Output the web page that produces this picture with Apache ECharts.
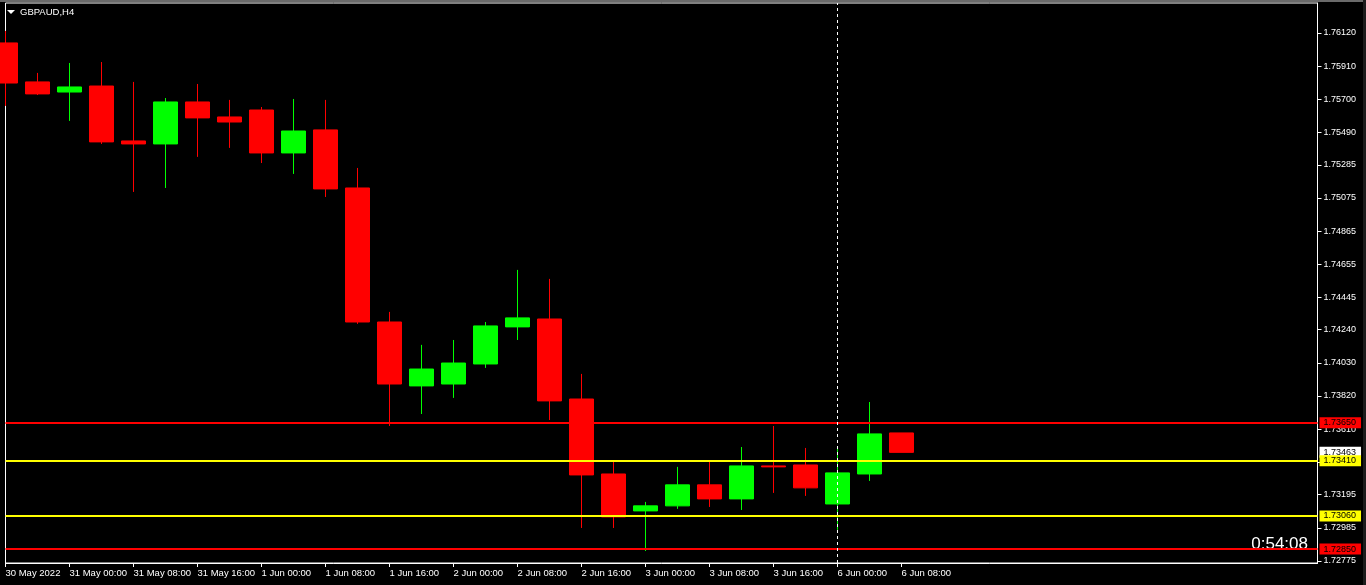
<!DOCTYPE html>
<html>
<head>
<meta charset="utf-8">
<script src="https://cdn.jsdelivr.net/npm/echarts@6/dist/echarts.min.js"></script>
<style>
html,body{margin:0;padding:0;background:#000;}
#chart{width:1366px;height:585px;}
</style>
</head>
<body>
<div id="chart"></div>
<script>
const symbolTitle = 'GBPAUD,H4';
const categories = ['30 May 2022','30 May 20:00','31 May 00:00','31 May 04:00','31 May 08:00','31 May 12:00','31 May 16:00','31 May 20:00',
  '1 Jun 00:00','1 Jun 04:00','1 Jun 08:00','1 Jun 12:00','1 Jun 16:00','1 Jun 20:00',
  '2 Jun 00:00','2 Jun 04:00','2 Jun 08:00','2 Jun 12:00','2 Jun 16:00','2 Jun 20:00',
  '3 Jun 00:00','3 Jun 04:00','3 Jun 08:00','3 Jun 12:00','3 Jun 16:00','3 Jun 20:00',
  '6 Jun 00:00','6 Jun 04:00','6 Jun 08:00'];
const opens  = [1.76057,1.75810,1.75746,1.75784,1.75436,1.75417,1.75683,1.75588,1.75632,1.75360,1.75506,1.75138,1.74289,1.73884,1.73896,1.74023,1.74258,1.74308,1.73801,1.73326,1.73092,1.73124,1.73257,1.73168,1.73377,1.73383,1.73136,1.73326,1.73586];
const closes = [1.75803,1.75734,1.75778,1.75430,1.75417,1.75683,1.75582,1.75556,1.75360,1.75499,1.75132,1.74289,1.73896,1.73991,1.74029,1.74264,1.74315,1.73789,1.73320,1.73054,1.73124,1.73257,1.73168,1.73377,1.73371,1.73238,1.73333,1.73580,1.73463];
const lows   = [1.75658,1.75727,1.75563,1.75417,1.75113,1.75138,1.75335,1.75392,1.75296,1.75227,1.75081,1.74277,1.73630,1.73706,1.73808,1.73998,1.74175,1.73668,1.72984,1.72984,1.72838,1.73105,1.73117,1.73098,1.73206,1.73187,1.72972,1.73282,1.73463];
const highs  = [1.76133,1.75867,1.75930,1.75936,1.75810,1.75708,1.75797,1.75696,1.75651,1.75702,1.75696,1.75265,1.74353,1.74144,1.74175,1.74289,1.74619,1.74562,1.73960,1.73402,1.73149,1.73371,1.73409,1.73497,1.73630,1.73491,1.73491,1.73782,1.73586];
const priceTicks = [1.76120,1.75910,1.75700,1.75490,1.75285,1.75075,1.74865,1.74655,1.74445,1.74240,1.74030,1.73820,1.73610,1.73400,1.73195,1.72985,1.72775];
const redLevels = [1.73650, 1.72850];
const yellowLevels = [1.73410, 1.73060];
const bidPrice = 1.73463;
const separatorIndex = 26;
const timerText = '0:54:08';

const PAD = 13;
const xCats = categories.concat(Array.from({length: PAD}, (_, i) => 'pad' + i));
const candles = categories.map((c, i) => [opens[i], closes[i], lows[i], highs[i]]);
const FONT = 'Liberation Sans, Arial, sans-serif';

function priceLabel(v, bg) {
  return {show: true, position: 'end', distance: 2, formatter: v.toFixed(5),
    backgroundColor: bg, color: '#000', fontSize: 9, fontFamily: FONT, padding: [1, 5, 1, 4]};
}
function levelLine(v, bg) {
  return {yAxis: v, lineStyle: {color: bg, width: 2, type: 'solid'}, label: priceLabel(v, bg)};
}

const markData = [
  {yAxis: bidPrice, lineStyle: {color: 'rgba(0,0,0,0)', width: 1, type: 'solid'}, label: priceLabel(bidPrice, '#ffffff')},
  levelLine(redLevels[0], '#ff0000'),
  levelLine(yellowLevels[0], '#ffff00'),
  levelLine(yellowLevels[1], '#ffff00'),
  levelLine(redLevels[1], '#ff0000'),
  {xAxis: xCats[separatorIndex], lineStyle: {color: '#fff', width: 1, type: [3, 3]}, label: {show: false}}
];

const chart = echarts.init(document.getElementById('chart'), null, {renderer: 'canvas'});
chart.setOption({
  animation: false,
  backgroundColor: '#000',
  grid: {left: 5.5, top: 3, width: 1312, height: 560, show: true, borderColor: '#fff', borderWidth: 1, backgroundColor: '#000'},
  xAxis: {
    type: 'category', data: xCats, boundaryGap: false,
    axisLine: {show: true, lineStyle: {color: '#fff', width: 1}},
    axisTick: {show: true, length: 4, lineStyle: {color: '#fff'}, interval: (i) => i % 2 === 0 && i < categories.length},
    axisLabel: {show: true, color: '#fff', fontSize: 9.5, fontFamily: FONT, align: 'left', margin: 5,
      interval: (i) => i % 2 === 0 && i < categories.length,
      formatter: (v, i) => i < categories.length ? v : ''},
    splitLine: {show: false}
  },
  yAxis: {
    type: 'value', position: 'right', min: 1.72762, max: 1.76310, scale: true,
    axisLine: {show: true, lineStyle: {color: '#fff', width: 1}},
    axisTick: {show: true, length: 4, lineStyle: {color: '#fff'}, customValues: priceTicks},
    axisLabel: {show: true, color: '#fff', fontSize: 9, fontFamily: FONT, margin: 6,
      customValues: priceTicks, formatter: (v) => v.toFixed(5)},
    splitLine: {show: false}
  },
  series: [{
    type: 'candlestick',
    data: candles,
    barWidth: 25,
    clip: true,
    itemStyle: {color: '#00ff00', color0: '#ff0000', borderColor: '#00ff00', borderColor0: '#ff0000', borderWidth: 1},
    markLine: {symbol: 'none', silent: true, animation: false, precision: 5, data: markData}
  }],
  graphic: [
    {type: 'rect', left: 0, top: 0, shape: {width: 1366, height: 2}, style: {fill: '#6a6a6a'}, silent: true},
    {type: 'rect', left: 1363, top: 0, shape: {width: 3, height: 585}, style: {fill: '#1c1c1c'}, silent: true},
    {type: 'polygon', shape: {points: [[7, 10], [15, 10], [11, 14]]}, style: {fill: '#fff'}},
    {type: 'text', left: 20, top: 7, style: {text: symbolTitle, fill: '#fff', font: '9.5px ' + FONT}},
    {type: 'text', right: 58, top: 536, style: {text: timerText, fill: '#fff', font: '17px ' + FONT}}
  ]
});
</script>
</body>
</html>
